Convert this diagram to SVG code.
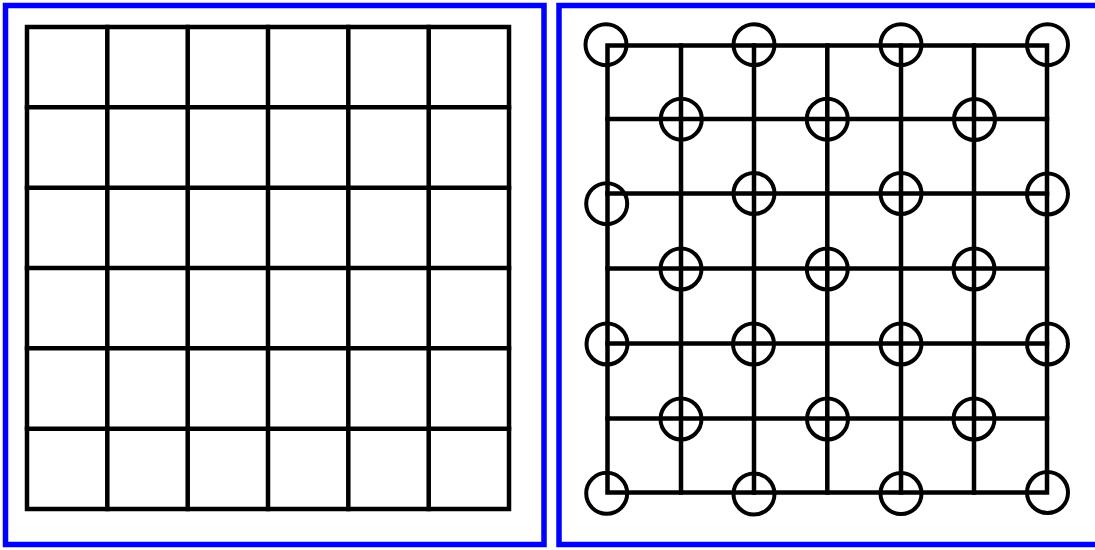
<svg xmlns="http://www.w3.org/2000/svg" width="1095" height="550" viewBox="0 0 1095 550">
<style>
.frame{fill:#ffffff;stroke:#0000ff;stroke-width:5.5}
.ln{stroke:#000;stroke-width:4.5;fill:none;stroke-linecap:square}
.c{stroke:#000;stroke-width:4;fill:none}
</style>
<rect width="1095" height="550" fill="#fefefe"/>
<g id="left-panel">
<rect class="frame" x="5.5" y="5.5" width="538.5" height="539"/>
<g class="ln">
<rect x="27" y="27" width="482" height="482"/>
<path d="M107.3 27V509M187.7 27V509M268 27V509M348.3 27V509M428.7 27V509M27 107.3H509M27 187.7H509M27 268H509M27 348.3H509M27 428.7H509"/>
</g>
</g>
<g id="right-panel">
<rect class="frame" x="559" y="5.5" width="545" height="539"/>
<g class="ln">
<rect x="607.5" y="45.5" width="439.5" height="447"/>
<path d="M681 45.5V492.5M754 45.5V492.5M827.3 45.5V492.5M901 45.5V492.5M974 45.5V492.5M607.5 119H1047M607.5 193.5H1047M607.5 268.5H1047M607.5 343.5H1047M607.5 418.5H1047"/>
</g>
<g class="c">
<circle cx="606" cy="44.7" r="20.5"/>
<circle cx="754" cy="44.7" r="20.5"/>
<circle cx="901" cy="44.7" r="20.5"/>
<circle cx="1047.5" cy="44.7" r="20.5"/>
<circle cx="681.3" cy="119.2" r="20.5"/>
<circle cx="827.3" cy="119.2" r="20.5"/>
<circle cx="974.5" cy="119.5" r="20.5"/>
<circle cx="606.7" cy="203.7" r="20.5"/>
<circle cx="754" cy="193.5" r="20.5"/>
<circle cx="901" cy="193.5" r="20.5"/>
<circle cx="1047.5" cy="194" r="20.5"/>
<circle cx="681" cy="269" r="20.5"/>
<circle cx="827.3" cy="269" r="20.5"/>
<circle cx="974" cy="269" r="20.5"/>
<circle cx="607" cy="344" r="20.5"/>
<circle cx="753.5" cy="344" r="20.5"/>
<circle cx="901" cy="344" r="20.5"/>
<circle cx="1047.5" cy="344" r="20.5"/>
<circle cx="681" cy="419" r="20.5"/>
<circle cx="827.5" cy="419" r="20.5"/>
<circle cx="974" cy="419" r="20.5"/>
<circle cx="606.7" cy="493.3" r="20.5"/>
<circle cx="754" cy="494" r="20.5"/>
<circle cx="901" cy="493.5" r="20.5"/>
<circle cx="1047.5" cy="492.5" r="20.5"/>
</g>
</g>
</svg>
